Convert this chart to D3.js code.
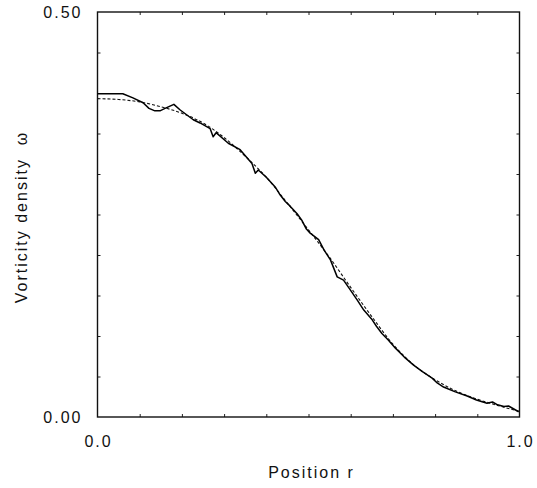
<!DOCTYPE html>
<html>
<head>
<meta charset="utf-8">
<script src="https://cdn.jsdelivr.net/npm/d3@7"></script>
<style>
  body { margin: 0; background: #fff; }
</style>
</head>
<body>
<div id="chart"></div>
<script>
// simulation profile (solid line)
var simR = [0.000, 0.060, 0.084, 0.108, 0.122, 0.136, 0.148, 0.160, 0.181, 0.196,
  0.227, 0.243, 0.267, 0.274, 0.281, 0.310, 0.338, 0.366, 0.374, 0.381,
  0.400, 0.421, 0.433, 0.445, 0.457, 0.473, 0.484, 0.495, 0.504, 0.524,
  0.537, 0.552, 0.568, 0.583, 0.599, 0.616, 0.631, 0.651, 0.661, 0.674,
  0.689, 0.706, 0.727, 0.749, 0.770, 0.793, 0.805, 0.820, 0.848, 0.876,
  0.898, 0.923, 0.936, 0.948, 0.963, 0.974, 0.998];
var simW = [0.399, 0.399, 0.394, 0.388, 0.381, 0.378, 0.378, 0.381, 0.386, 0.379,
  0.367, 0.363, 0.356, 0.346, 0.351, 0.338, 0.330, 0.313, 0.301, 0.305,
  0.296, 0.284, 0.274, 0.266, 0.260, 0.251, 0.243, 0.232, 0.227, 0.219,
  0.206, 0.194, 0.173, 0.169, 0.157, 0.144, 0.132, 0.120, 0.112, 0.103,
  0.095, 0.085, 0.074, 0.064, 0.056, 0.048, 0.042, 0.037, 0.031, 0.026,
  0.021, 0.017, 0.0185, 0.015, 0.013, 0.0136, 0.0065];

// theoretical profile (dashed line)
var fitR = [0, 0.05, 0.1, 0.15, 0.2, 0.25, 0.3, 0.35, 0.4, 0.45, 0.5,
  0.55, 0.6, 0.65, 0.7, 0.75, 0.8, 0.85, 0.9, 0.95, 1.0];
var fitW = [0.393, 0.392, 0.389, 0.383, 0.375, 0.363, 0.345, 0.322, 0.296, 0.264, 0.231,
  0.197, 0.160, 0.124, 0.090, 0.064, 0.046, 0.032, 0.022, 0.014, 0.007];

var xTicks = [0.1, 0.2, 0.3, 0.4, 0.5, 0.6, 0.7, 0.8, 0.9];
var yTicks = [0.05, 0.10, 0.15, 0.20, 0.25, 0.30, 0.35, 0.40, 0.45];
var xLabels = [0.0, 1.0];
var yLabels = [0.00, 0.50];

var attrs = {
  svgWidth: 537,
  svgHeight: 488,
  marginLeft: 97.5,
  marginTop: 12,
  marginRight: 17.5,
  marginBottom: 71,
  fontFamily: '"Liberation Sans", Helvetica, Arial, sans-serif'
};

var chartWidth = attrs.svgWidth - attrs.marginLeft - attrs.marginRight;
var chartHeight = attrs.svgHeight - attrs.marginTop - attrs.marginBottom;

var x = d3.scaleLinear().domain([0, 1]).range([0, chartWidth]);
var y = d3.scaleLinear().domain([0, 0.5]).range([chartHeight, 0]);

var svg = d3.select('#chart')
  .append('svg')
  .attr('width', attrs.svgWidth)
  .attr('height', attrs.svgHeight)
  .attr('font-family', attrs.fontFamily);

var chart = svg.append('g')
  .attr('transform', 'translate(' + attrs.marginLeft + ',' + attrs.marginTop + ')');

// inward ticks on all four sides
var tickLen = 3;
chart.append('g')
  .attr('transform', 'translate(0,' + chartHeight + ')')
  .call(d3.axisBottom(x).tickValues(xTicks).tickSizeInner(-tickLen).tickSizeOuter(0).tickFormat(''));
chart.append('g')
  .call(d3.axisTop(x).tickValues(xTicks).tickSizeInner(-tickLen).tickSizeOuter(0).tickFormat(''));
chart.append('g')
  .call(d3.axisLeft(y).tickValues(yTicks).tickSizeInner(-tickLen).tickSizeOuter(0).tickFormat(''));
chart.append('g')
  .attr('transform', 'translate(' + chartWidth + ',0)')
  .call(d3.axisRight(y).tickValues(yTicks).tickSizeInner(-tickLen).tickSizeOuter(0).tickFormat(''));

chart.selectAll('.domain').remove();
chart.selectAll('.tick line').attr('stroke', '#222').attr('stroke-width', 1);

// frame
chart.append('rect')
  .attr('width', chartWidth)
  .attr('height', chartHeight)
  .attr('fill', 'none')
  .attr('stroke', '#111')
  .attr('stroke-width', 1.4);

// tick labels
chart.selectAll('.ylab')
  .data(yLabels)
  .enter()
  .append('text')
  .attr('class', 'ylab')
  .attr('x', -15)
  .attr('y', d => y(d) + 6)
  .attr('text-anchor', 'end')
  .attr('font-size', 16)
  .attr('letter-spacing', 2)
  .attr('fill', '#111')
  .text(d => d3.format('.2f')(d));

chart.selectAll('.xlab')
  .data(xLabels)
  .enter()
  .append('text')
  .attr('class', 'xlab')
  .attr('x', d => x(d) + 1)
  .attr('y', chartHeight + 30)
  .attr('text-anchor', 'middle')
  .attr('font-size', 16)
  .attr('letter-spacing', 2)
  .attr('fill', '#111')
  .text(d => d3.format('.1f')(d));

// axis titles
svg.append('text')
  .attr('x', attrs.marginLeft + chartWidth / 2 + 3)
  .attr('y', 478)
  .attr('text-anchor', 'middle')
  .attr('font-size', 16)
  .attr('letter-spacing', 2)
  .attr('fill', '#111')
  .text('Position r');

svg.append('text')
  .attr('transform', 'translate(27,217) rotate(-90)')
  .attr('text-anchor', 'middle')
  .attr('font-size', 16)
  .attr('letter-spacing', 2)
  .attr('fill', '#111')
  .attr('xml:space', 'preserve')
  .text('Vorticity density  \u03c9');

// curves
var fitLine = d3.line()
  .x((d, i) => x(fitR[i]))
  .y(d => y(d))
  .curve(d3.curveMonotoneX);

var simLine = d3.line()
  .x((d, i) => x(simR[i]))
  .y(d => y(d));

chart.append('path')
  .attr('d', fitLine(fitW))
  .attr('fill', 'none')
  .attr('stroke', '#111')
  .attr('stroke-width', 1.1)
  .attr('stroke-dasharray', '3,2');

chart.append('path')
  .attr('d', simLine(simW))
  .attr('fill', 'none')
  .attr('stroke', '#000')
  .attr('stroke-width', 1.5)
  .attr('stroke-linejoin', 'round');
</script>
</body>
</html>
